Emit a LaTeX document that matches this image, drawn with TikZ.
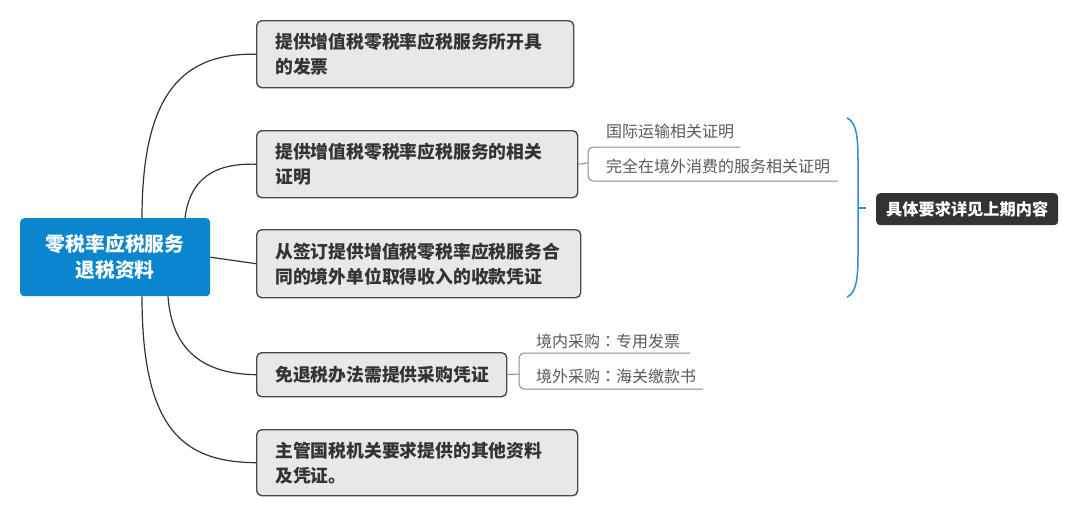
\documentclass[tikz,border=0pt]{standalone}
\usepackage{fontspec}
\setmainfont{Noto Sans CJK SC}
\newfontfamily\tcfont{Noto Sans CJK TC}
\definecolor{rootblue}{HTML}{0A86CE}
\definecolor{boxfill}{HTML}{E8E8E8}
\definecolor{boxline}{HTML}{4A4A4A}
\definecolor{txtdark}{HTML}{333333}
\definecolor{subtxt}{HTML}{595959}
\definecolor{subline}{HTML}{8A8A8A}
\definecolor{bracecol}{HTML}{2A8FD8}
\definecolor{darkbox}{HTML}{333333}
\tikzset{
  rootbox/.style={fill=rootblue, rounded corners=4pt, minimum width=190pt, minimum height=78pt, inner sep=0pt, anchor=north west},
  roottext/.style={text=white, font=\bfseries\fontsize{19.8}{26}\selectfont, align=center, inner sep=0pt},
  gbox/.style={draw=boxline, line width=1.4pt, fill=boxfill, rounded corners=5pt, inner sep=0pt, anchor=north west},
  gtext/.style={text=txtdark, font=\bfseries\fontsize{17.8}{25}\selectfont, align=left, inner sep=0pt, anchor=west},
  conn/.style={draw=txtdark, line width=1.2pt},
  sline/.style={draw=subline, line width=1pt, rounded corners=5pt},
  stext/.style={text=subtxt, font=\fontsize{16}{20}\selectfont, inner sep=0pt, anchor=base west},
  bracestyle/.style={draw=bracecol, line width=1.5pt},
  dbox/.style={fill=darkbox, rounded corners=4pt, text=white, font=\bfseries\fontsize{16.2}{20}\selectfont, inner sep=0pt, minimum width=182pt, minimum height=32pt, anchor=north west}
}
\begin{document}
\begin{tikzpicture}[x=1pt,y=-1pt]
\useasboundingbox (0,0) rectangle (1080,512);
% root
\node[rootbox] (root) at (20,218) {};
\node[roottext] (roott) at (root.center) {零税率应税服务\\退税资料};
% boxes
\node[gbox, minimum width=317pt, minimum height=67pt] (b1) at (256,20) {};
\node[gtext] (t1) at ([xshift=19pt]b1.west) {提供增值税零税率应税服务所开具\\的发票};
\node[gbox, minimum width=321pt, minimum height=67pt] (b2) at (256,130) {};
\node[gtext] (t2) at ([xshift=19pt]b2.west) {提供增值税零税率应税服务的相关\\证明};
\node[gbox, minimum width=324pt, minimum height=68pt] (b3) at (256,229) {};
\node[gtext] (t3) at ([xshift=19pt]b3.west) {从签订提供增值税零税率应税服务合\\同的境外单位取得收入的收款凭证};
\node[gbox, minimum width=250pt, minimum height=44pt] (b4) at (256,352) {};
\node[gtext] (t4) at ([xshift=19pt]b4.west) {免退税办法需提供采购凭证};
\node[gbox, minimum width=321pt, minimum height=66pt] (b5) at (256,429) {};
\node[gtext] (t5) at ([xshift=19pt]b5.west) {主管国税机关要求提供的其他资料\\及凭证。};
% connectors root -> boxes
\draw[conn] ([xshift=122pt]root.north west) .. controls (142,90) and (185,53) .. (b1.west);
\draw[conn] ([xshift=165pt]root.north west) .. controls (190,178) and (215,163) .. (b2.west);
\draw[conn] (root.east) -- (b3.west);
\draw[conn] ([xshift=148pt]root.south west) .. controls (172,352) and (205,374) .. (b4.west);
\draw[conn] ([xshift=122pt]root.south west) .. controls (142,432) and (185,462) .. (b5.west);
% sub-items of b2
\coordinate (s2top) at (740,147);
\coordinate (s2bot) at (838,181);
\draw[sline] (b2.east) -- (588,163);
\draw[sline] (s2top) -- (588,147) -- (588,181) -- (s2bot);
\node[stext] (s21) at (606,137) {国际运输相关证明};
\node[stext] (s22) at (606,172) {完全在境外消费的服务相关证明};
% sub-items of b4
\coordinate (s4top) at (690,353);
\coordinate (s4bot) at (703,389);
\draw[sline] (b4.east) -- (519,374);
\draw[sline] (s4top) -- (519,353) -- (519,389) -- (s4bot);
\node[stext] (s41) at (536,347) {境内采购{\tcfont ：}专用发票};
\node[stext] (s42) at (536,382) {境外采购{\tcfont ：}海关缴款书};
% brace
\coordinate (bracemid) at (858,208);
\coordinate (bracetick) at (866,208);
\draw[bracestyle] (847,118) .. controls (856,122) and (858,135) .. (858,160) -- (858,255) .. controls (858,280) and (856,293) .. (847,297);
\draw[bracestyle] (bracemid) -- (bracetick);
\node[dbox] (db) at (876,193) {具体要求详见上期内容};
\end{tikzpicture}
\end{document}
